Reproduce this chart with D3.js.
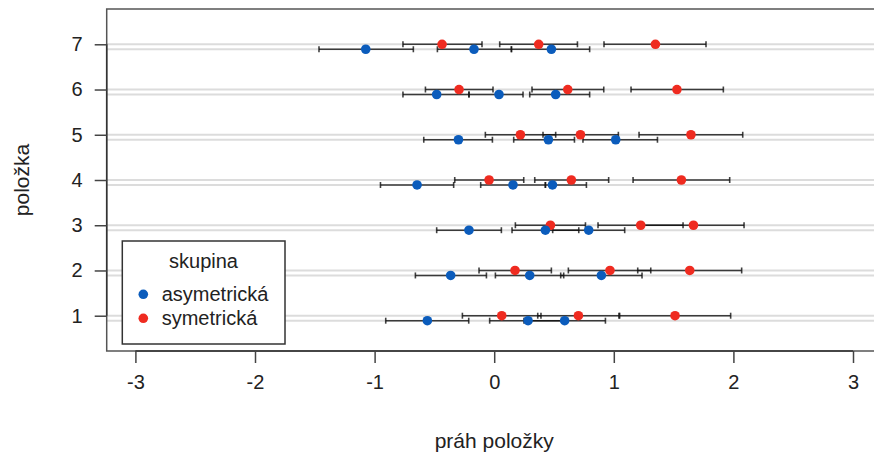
<!DOCTYPE html>
<html>
<head>
<meta charset="utf-8">
<script src="https://cdn.jsdelivr.net/npm/d3@7"></script>
<style>
  html, body { margin: 0; padding: 0; background: #fff; }
  svg { display: block; font-family: "Liberation Sans", Arial, Helvetica, sans-serif; }
</style>
</head>
<body>
<svg id="chart" width="874" height="455"></svg>
<script>
// ---- data ----
const items = [1, 2, 3, 4, 5, 6, 7];
const groups = ["asymetrická", "symetrická"];
const xTicks = [-3, -2, -1, 0, 1, 2, 3];
const yTicks = [1, 2, 3, 4, 5, 6, 7];

// threshold estimates per item (3 thresholds each)
const symEst = [
  [0.063, 0.704, 1.512],
  [0.174, 0.968, 1.635],
  [0.470, 1.225, 1.666],
  [-0.043, 0.645, 1.565],
  [0.219, 0.721, 1.645],
  [-0.294, 0.615, 1.528],
  [-0.436, 0.372, 1.348]
];
const symLo = [
  [-0.266, 0.364, 1.049],
  [-0.127, 0.620, 1.200],
  [0.177, 0.868, 1.242],
  [-0.330, 0.339, 1.161],
  [-0.074, 0.408, 1.211],
  [-0.575, 0.316, 1.144],
  [-0.763, 0.046, 0.918]
];
const symHi = [
  [0.391, 1.043, 1.977],
  [0.478, 1.309, 2.069],
  [0.763, 1.579, 2.089],
  [0.247, 0.957, 1.969],
  [0.514, 1.038, 2.078],
  [-0.010, 0.916, 1.916],
  [-0.102, 0.696, 1.771]
];
const asymEst = [
  [-0.559, 0.283, 0.589],
  [-0.364, 0.297, 0.896],
  [-0.211, 0.428, 0.790],
  [-0.645, 0.157, 0.487],
  [-0.299, 0.453, 1.016],
  [-0.481, 0.040, 0.514],
  [-1.074, -0.169, 0.478]
];
const asymLo = [
  [-0.907, -0.038, 0.249],
  [-0.659, 0.010, 0.556],
  [-0.481, 0.149, 0.489],
  [-0.951, -0.113, 0.428],
  [-0.589, 0.163, 0.742],
  [-0.763, -0.211, 0.297],
  [-1.465, -0.475, 0.144]
];
const asymHi = [
  [-0.213, 0.602, 0.930],
  [-0.065, 0.581, 1.236],
  [0.060, 0.707, 1.091],
  [-0.339, 0.428, 0.771],
  [-0.015, 0.671, 1.365],
  [-0.211, 0.241, 0.798],
  [-0.676, 0.144, 0.798]
];

const colors = { "asymetrická": "#0b5cbc", "symetrická": "#ef2b20" };
const offsets = { "asymetrická": -0.11, "symetrická": 0 };

// build records
const records = [];
items.forEach((it, i) => {
  for (let k = 0; k < 3; k++) {
    records.push({ item: it, group: "asymetrická", est: asymEst[i][k], lo: asymLo[i][k], hi: asymHi[i][k] });
    records.push({ item: it, group: "symetrická", est: symEst[i][k], lo: symLo[i][k], hi: symHi[i][k] });
  }
});

// ---- layout ----
const svg = d3.select("#chart");
const pLeft = 106.7, pTop = 9, pBottom = 351;
const x = d3.scaleLinear().domain([-3.24, 3.24]).range([pLeft, pLeft + 6.48 * 119.6]);
const y = d3.scaleLinear().domain([0.22, 7.78]).range([pBottom, pTop]);
const pRight = x.range()[1];

// gray guide lines
const guideRows = [];
items.forEach(it => groups.forEach(g => guideRows.push(it + offsets[g])));
svg.append("g").selectAll("line").data(guideRows).join("line")
  .attr("x1", pLeft).attr("x2", pRight)
  .attr("y1", d => y(d)).attr("y2", d => y(d))
  .attr("stroke", "#dcdcdc").attr("stroke-width", 2);

// error bars
const eb = svg.append("g").attr("stroke", "#111").attr("stroke-opacity", 0.8).attr("stroke-width", 1.6);
eb.selectAll("line.h").data(records).join("line").attr("class", "h")
  .attr("x1", d => x(d.lo)).attr("x2", d => x(d.hi))
  .attr("y1", d => y(d.item + offsets[d.group])).attr("y2", d => y(d.item + offsets[d.group]));
eb.selectAll("line.cl").data(records).join("line").attr("class", "cl")
  .attr("x1", d => x(d.lo)).attr("x2", d => x(d.lo))
  .attr("y1", d => y(d.item + offsets[d.group]) - 3).attr("y2", d => y(d.item + offsets[d.group]) + 3);
eb.selectAll("line.cr").data(records).join("line").attr("class", "cr")
  .attr("x1", d => x(d.hi)).attr("x2", d => x(d.hi))
  .attr("y1", d => y(d.item + offsets[d.group]) - 3).attr("y2", d => y(d.item + offsets[d.group]) + 3);

// points
svg.append("g").selectAll("circle").data(records).join("circle")
  .attr("cx", d => x(d.est)).attr("cy", d => y(d.item + offsets[d.group]))
  .attr("r", 4.8).attr("fill", d => colors[d.group]);

// box
svg.append("rect").attr("x", pLeft).attr("y", pTop).attr("width", pRight - pLeft).attr("height", pBottom - pTop)
  .attr("fill", "none").attr("stroke", "#555").attr("stroke-width", 1.5);

// axes
const plain = d => String(d);
const xAxis = d3.axisBottom(x).tickValues(xTicks).tickSize(12).tickPadding(12).tickFormat(plain);
const gx = svg.append("g").attr("transform", `translate(0,${pBottom})`).call(xAxis);
gx.select(".domain").attr("d", `M${x(-3)},0H${x(3)}`).attr("stroke", "#333").attr("stroke-width", 1.5);
gx.selectAll(".tick line").attr("stroke", "#444").attr("stroke-width", 1.5);
gx.selectAll(".tick text").attr("font-size", 20).attr("fill", "#222").attr("font-family", "Liberation Sans, Arial, sans-serif");

const yAxis = d3.axisLeft(y).tickValues(yTicks).tickSize(12).tickPadding(12).tickFormat(plain);
const gy = svg.append("g").attr("transform", `translate(${pLeft},0)`).call(yAxis);
gy.select(".domain").attr("d", `M0,${y(1)}V${y(7)}`).attr("stroke", "#333").attr("stroke-width", 1.5);
gy.selectAll(".tick line").attr("stroke", "#444").attr("stroke-width", 1.5);
gy.selectAll(".tick text").attr("font-size", 20).attr("fill", "#222").attr("font-family", "Liberation Sans, Arial, sans-serif");

// axis titles
svg.append("text").attr("x", x(0)).attr("y", 448).attr("text-anchor", "middle")
  .attr("font-size", 21).attr("fill", "#222").text("práh položky");
svg.append("text").attr("transform", `translate(29,${(pTop + pBottom) / 2}) rotate(-90)`)
  .attr("text-anchor", "middle").attr("font-size", 21).attr("fill", "#222").text("položka");

// legend
const lg = svg.append("g");
lg.append("rect").attr("x", 122.3).attr("y", 241).attr("width", 162.7).attr("height", 103)
  .attr("fill", "#fff").attr("stroke", "#333").attr("stroke-width", 1.5);
lg.append("text").attr("x", 203.5).attr("y", 268).attr("text-anchor", "middle")
  .attr("font-size", 20).attr("fill", "#222").text("skupina");
groups.forEach((g, i) => {
  const cy = 294.3 + i * 24;
  lg.append("circle").attr("cx", 143.3).attr("cy", cy).attr("r", 4.8).attr("fill", colors[g]);
  lg.append("text").attr("x", 161.7).attr("y", cy + 7).attr("font-size", 20).attr("fill", "#222").text(g);
});
</script>
</body>
</html>
